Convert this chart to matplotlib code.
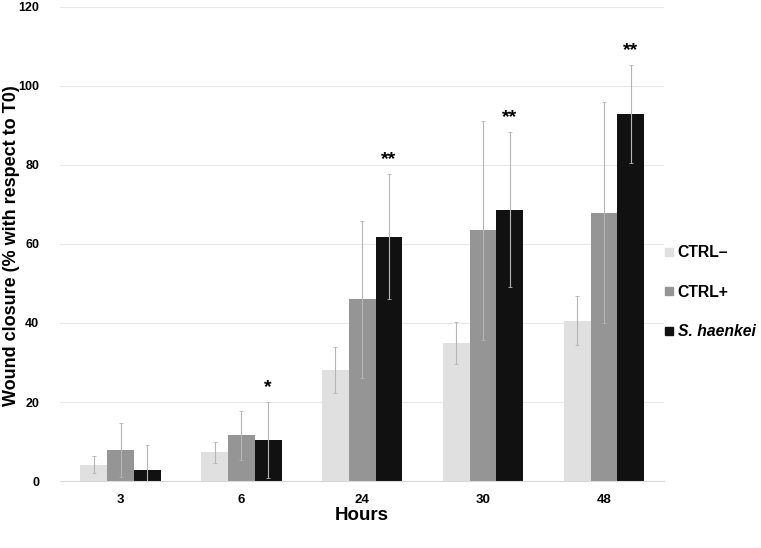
import numpy as np
import matplotlib.pyplot as plt
from matplotlib.lines import Line2D

plt.rcParams['font.family'] = ['Liberation Sans', 'DejaVu Sans']

hours = ['3', '6', '24', '30', '48']
series_names = ['CTRL\u2013', 'CTRL+', 'S. haenkei']
ctrl_neg = [4.2, 7.3, 28.1, 34.9, 40.6]
ctrl_neg_err = [2.1, 2.7, 5.7, 5.4, 6.3]
ctrl_pos = [7.8, 11.6, 46.0, 63.4, 67.9]
ctrl_pos_err = [6.8, 6.2, 19.8, 27.7, 27.9]
haenkei = [2.8, 10.4, 61.8, 68.6, 92.9]
haenkei_err = [6.4, 9.5, 15.8, 19.6, 12.4]
stars = ['', '*', '**', '**', '**']

colors = ['#e0e0e0', '#959595', '#111111']


def main():
    fig = plt.figure(figsize=(7.61, 5.48), dpi=100)
    ax = fig.add_axes([0.079, 0.122, 0.794, 0.866])

    x = np.arange(len(hours))
    width = 0.222
    values = [ctrl_neg, ctrl_pos, haenkei]
    errors = [ctrl_neg_err, ctrl_pos_err, haenkei_err]
    for i, (vals, errs) in enumerate(zip(values, errors)):
        ax.bar(x + (i - 1) * width, vals, width, color=colors[i],
               yerr=errs, zorder=2,
               error_kw=dict(ecolor='#b5b5b5', elinewidth=0.8, capsize=1.5,
                             capthick=0.6))

    # significance stars above S. haenkei error bars
    for i, s in enumerate(stars):
        if s:
            ax.text(x[i] + width, haenkei[i] + haenkei_err[i] + 1.5, s,
                    ha='center', va='bottom', fontsize=14, fontweight='bold')

    ax.set_xlim(-0.5, len(hours) - 0.5)
    ax.set_ylim(0, 120)
    ax.set_yticks(range(0, 121, 20))
    ax.set_xticks(x)
    ax.set_xticklabels(hours)
    ax.grid(axis='y', color='#e8e8e8', lw=0.8, zorder=0)
    ax.set_axisbelow(True)
    for side in ['top', 'right', 'left']:
        ax.spines[side].set_visible(False)
    ax.spines['bottom'].set_color('#d9d9d9')
    ax.tick_params(length=0, labelsize=9.5, pad=9)
    ax.tick_params(axis='y', labelsize=9, pad=15)
    for lab in ax.get_xticklabels() + ax.get_yticklabels():
        lab.set_fontweight('bold')

    ax.set_xlabel('Hours', fontsize=13.5, fontweight='bold', labelpad=1)
    fig.text(12 / 761, 1 - 246 / 548, 'Wound closure (% with respect to T0)',
             rotation=90, ha='center', va='center', fontsize=13,
             fontweight='bold')

    handles = [Line2D([], [], marker='s', linestyle='none', markersize=6,
                      markerfacecolor=c, markeredgecolor=c) for c in colors]
    leg = ax.legend(handles, series_names, loc='center left',
                    bbox_to_anchor=(0.995, 0.398), frameon=False,
                    fontsize=11.3, handletextpad=0.05, labelspacing=1.55,
                    handlelength=1.0, borderaxespad=0.0, borderpad=0.0)
    for t in leg.get_texts():
        t.set_fontweight('bold')
    leg.get_texts()[2].set_fontstyle('italic')

    fig.savefig('out.png', dpi=100)


if __name__ == "__main__":
    main()
